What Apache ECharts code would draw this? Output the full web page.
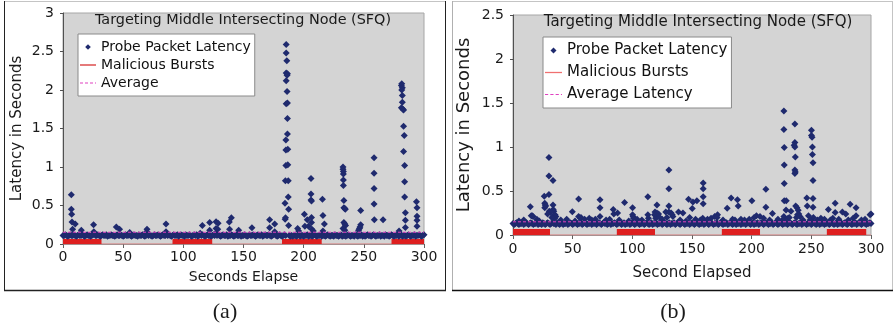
<!DOCTYPE html>
<html><head><meta charset="utf-8">
<script src="https://cdn.jsdelivr.net/npm/echarts@6/dist/echarts.min.js"></script>
<style>html,body{margin:0;padding:0;background:#fff}#c{width:893px;height:327px}</style>
</head><body><div id="c"></div>
<script>
// ---------- DATA ----------
const titleText = 'Targeting Middle Intersecting Node (SFQ)';
const xNameA = 'Seconds Elapse', xNameB = 'Second Elapsed';
const yName = 'Latency in Seconds';
const legendA = ['Probe Packet Latency', 'Malicious Bursts', 'Average'];
const legendB = ['Probe Packet Latency', 'Malicious Bursts', 'Average Latency'];
const captions = ['(a)', '(b)'];

// baseline probe latency, one reading per second (0..300), chart (a)
const baseA = [
.11,.11,.12,.11,.10,.11,.12,.11,.11,.12,
.11,.10,.11,.12,.11,.11,.12,.11,.10,.11,
.12,.11,.11,.10,.11,.12,.14,.11,.11,.12,
.11,.10,.11,.12,.11,.11,.12,.10,.11,.11,
.12,.11,.11,.10,.11,.12,.11,.11,.12,.11,
.10,.11,.12,.11,.11,.12,.11,.10,.11,.12,
.11,.11,.10,.12,.11,.11,.12,.11,.10,.11,
.14,.11,.12,.11,.10,.11,.12,.11,.11,.12,
.11,.10,.11,.12,.11,.11,.14,.11,.12,.11,
.10,.11,.12,.11,.11,.12,.10,.11,.12,.11,
.11,.10,.12,.11,.11,.12,.11,.10,.11,.12,
.11,.12,.10,.11,.14,.11,.12,.11,.10,.11,
.12,.11,.11,.10,.11,.12,.11,.14,.11,.12,
.11,.10,.11,.12,.11,.11,.12,.10,.11,.11,
.12,.11,.10,.11,.12,.11,.11,.12,.10,.11,
.11,.12,.11,.10,.11,.12,.11,.11,.12,.11,
.10,.11,.12,.11,.11,.12,.10,.11,.12,.11,
.11,.12,.11,.10,.11,.12,.14,.11,.10,.11,
.12,.11,.10,.11,.12,.11,null,null,.11,.10,
.11,.10,.11,.11,.10,.11,.12,.10,.11,.11,
.10,.11,.11,.12,.10,.11,.11,.10,.11,.12,
.11,.10,.11,.11,.12,.10,.11,.11,.10,.11,
.12,.11,.10,.11,.11,.10,.12,.11,.11,.10,
.11,.12,.10,.11,.11,.10,.11,.12,.11,.10,
.11,.11,.10,.12,.11,.10,.11,.11,.12,.10,
.11,.10,.11,.12,.11,.11,.10,.11,.12,.11,
.10,.11,.11,.12,.10,.11,.11,.10,.12,.11,
.11,.10,.11,.12,.11,.10,.11,.11,.12,.10,
.11,.12,.10,.11,.11,.10,.11,.12,.11,.10,
.11,.11,.12,.10,.11,.11,.12,.11,.10,.11,
.12];
// higher readings, chart (a): [second, latency]
const peaksA = [
[6.9,.64],[6.9,.45],[7.2,.385],[7.5,.285],[8,.19],[10.2,.26],[15.2,.18],[25.4,.25],[25.6,.16],
[44.3,.22],[47,.19],[55.4,.15],[69.8,.19],[69.6,.16],[85.6,.26],[85.6,.16],
[115.8,.24],[121.9,.28],[121.9,.18],[127.2,.29],[128.9,.27],[127.2,.2],[128.6,.19],
[138.2,.285],[139.9,.34],[138.4,.19],[146,.18],[157,.21],[171.7,.315],[171.7,.21],[175.9,.26],[175.9,.16],
[184.5,.53],[184.6,.32],[184.9,.34],[185.5,2.59],[185.5,2.48],[186,2.38],[185.5,2.22],[186.5,2.21],
[186.2,2.19],[185.5,2.12],[186.2,1.98],[185.5,1.82],[186.5,1.83],[186.5,1.63],[186.5,1.43],[185.2,1.35],
[185.2,1.22],[186.8,1.23],[185.2,1.02],[186.8,1.03],[184.8,.82],[187.2,.82],[187.2,.61],[187.5,.45],[187.5,.24],
[195,.2],[195.8,.17],[200.6,.385],[203,.315],[201,.23],[204,.23],[206.1,.85],[206.1,.65],[206.1,.57],
[206.5,.56],[206.5,.345],[206.5,.28],[206.8,.19],[208,.17],[215.6,.58],[216,.37],[217.2,.26],[216,.17],
[232.7,1.0],[232.7,.97],[233,.94],[233,.91],[233,.83],[233,.76],[233.4,.565],[233.4,.47],[234.2,.46],
[234.6,.45],[233.4,.28],[234.2,.26],[234.8,.24],[232.7,.2],[234.2,.18],
[247.4,.435],[247.4,.25],[246.8,.22],[246.4,.2],[245.6,.18],
[258.5,1.12],[258.5,.92],[258.5,.72],[258.5,.52],[258.7,.315],[266,.315],
[281.5,2.08],[281.2,2.06],[282,2.03],[281.5,2.0],[282,1.93],[282,1.84],[281.2,1.77],[282.5,1.75],
[283,1.74],[283,1.53],[283.6,1.41],[283,1.2],[283.9,1.02],[283.9,.81],[283.9,.61],[284.5,.405],
[284.5,.31],[284.5,.215],[279.3,.17],
[293.7,.55],[294.2,.47],[294.2,.36],[294.2,.31],[294.2,.23]];
const burstsA = [[0,32],[91,124],[182,215],[273,300]];
const avgA = 0.153;

// baseline probe latency, one reading per second (0..300), chart (b)
const baseB = [
.13,.12,.13,.14,.13,.12,.13,.13,.14,.12,
.13,.14,.13,.12,.13,.14,.13,.12,.13,.13,
.14,.12,.13,.13,.12,.14,.13,.12,.13,.14,
.13,.12,.13,.14,.13,.13,.12,.14,.13,.12,
.13,.14,.12,.13,.13,.14,.12,.13,.14,.13,
.12,.13,.14,.13,.12,.13,.13,.14,.12,.13,
.14,.13,.12,.13,.13,.14,.12,.13,.13,.14,
.12,.13,.14,.13,.12,.13,.14,.13,.13,.12,
.13,.14,.12,.13,.13,.14,.13,.12,.13,.14,
.13,.12,.13,.14,.12,.13,.13,.14,.12,.13,
.14,.13,.12,.13,.14,.13,.12,.13,.13,.14,
.12,.13,.14,.13,.12,.13,.14,.12,.13,.13,
.14,.12,.13,.13,.14,.12,.13,.14,.13,.12,
.13,.14,.12,.13,.13,.14,.12,.13,.14,.13,
.12,.13,.14,.13,.12,.13,.13,.14,.12,.13,
.14,.13,.12,.13,.14,.13,.12,.13,.13,.14,
.12,.13,.14,.13,.12,.13,.14,.13,.12,.13,
.13,.14,.12,.13,.14,.13,.12,.13,.13,.14,
.12,.13,.14,.13,.12,.13,.14,.12,.13,.13,
.14,.12,.13,.13,.14,.12,.13,.14,.13,.12,
.13,.14,.12,.13,.13,.14,.12,.13,.14,.13,
.12,.13,.14,.13,.12,.13,.13,.14,.12,.13,
.14,.13,.12,.13,.14,.13,.12,.13,.13,.14,
.12,.13,.14,.13,.12,.13,.14,.13,.12,.13,
.13,.14,.12,.13,.14,.13,.12,.13,.13,.14,
.12,.13,.14,.13,.12,.13,.14,.12,.13,.13,
.14,.12,.13,.13,.14,.12,.13,.14,.13,.12,
.13,.14,.12,.13,.13,.14,.12,.13,.14,.13,
.12,.13,.14,.13,.12,.13,.13,.14,.12,.13,
.14,.13,.12,.13,.14,.13,.12,.13,.13,.14,
.13];
// higher readings, chart (b): [second, latency]
const peaksB = [
[5,.16],[9,.17],[14.5,.32],[15.3,.22],[16.1,.22],[16.8,.21],[20,.18],[22,.16],
[26.2,.44],[26.6,.36],[27,.34],[26.6,.31],[27.4,.33],[30.1,.88],[30.1,.67],[33.5,.62],[30.1,.46],
[33.5,.34],[33.7,.29],[34.2,.27],[34,.22],[35.2,.23],[36,.21],[35,.19],[30.4,.27],[31.6,.26],[32.5,.2],[29,.24],
[40,.17],[45,.18],[49.7,.265],[52,.16],[55,.41],[55,.21],[56.5,.19],[57,.2],[60,.18],[63.9,.19],[66,.17],[69,.18],
[72.9,.40],[72.9,.31],[72.9,.21],[78,.17],[81,.18],[84,.29],[84.5,.24],[87.6,.25],[89,.17],[93.5,.37],[97,.16],
[100.2,.31],[100.2,.23],[100.6,.21],[101,.19],[104,.18],[108,.17],
[113,.435],[113,.23],[113.5,.19],[120.6,.34],[119,.26],[120.6,.25],[122,.24],[118.6,.23],[121,.21],[119.5,.19],[123,.2],[125,.18],
[130.6,.74],[130.6,.525],[130.6,.33],[128,.26],[130.6,.26],[132.5,.25],[133.4,.23],[134,.21],[129,.2],
[138.7,.26],[140,.17],[142.4,.25],[145,.16],[147.1,.405],[148,.2],[150.2,.30],[150.8,.375],[154.1,.39],[153,.18],[157,.17],
[159.4,.59],[159.4,.525],[159.4,.435],[159.4,.355],[159,.19],[159.8,.17],[163,.18],[166,.19],[169,.21],
[171.4,.23],[171,.2],[176,.17],[179.5,.305],[182.8,.42],[186,.17],[188.1,.40],[188.7,.33],[184,.18],[191,.18],[194,.17],
[200.2,.39],[198,.18],[202,.2],[204,.22],[207,.21],[211.9,.52],[211.9,.315],[210,.19],[217.4,.245],[215,.17],[222,.18],
[227,1.41],[227,1.20],[227.3,.995],[227.3,.795],[227.3,.585],[227.3,.39],[229,.39],[228.8,.285],[227,.21],[226.5,.18],
[230.5,.19],[231.5,.2],[232.9,.27],
[236.2,1.26],[236.2,1.05],[235.6,1.02],[236.2,1.0],[236.6,.885],[236.2,.74],[236.6,.715],[236.2,.70],[236.9,.33],
[238,.31],[239,.28],[239.5,.24],[238.4,.23],[237.5,.2],[240.5,.21],[243,.17],
[246.2,.42],[246.6,.33],[247.6,.22],[250.1,1.19],[250.1,1.13],[250.6,1.11],[250.9,1.0],[250.9,.915],[251.4,.82],
[251.4,.62],[251.4,.415],[251.4,.315],[251.7,.2],[249,.17],[255,.17],
[258,.19],[261,.18],[264.3,.29],[266,.17],[270,.36],[270,.255],[268,.19],[273,.18],[276,.26],[278.9,.24],[281,.17],
[282.5,.35],[287.5,.31],[287.5,.22],[285,.19],[292,.17],[295,.18],[299.2,.23],[300,.24]];
const burstsB = [[0,31],[87,119],[175,207],[263,296]];
const avgB = 0.15;

// ---------- BUILD ----------
const FONT = 'DejaVu Sans';
const NAVY = '#1f2a6e';
const RED = '#de1f1f';
const MAG = '#e040c0';

function points(base, peaks) {
  const out = [];
  base.forEach((v, sec) => { if (v != null) out.push([sec, v]); });
  return out.concat(peaks);
}
function burstLine(bursts, level) {
  const out = [];
  bursts.forEach((b, i) => { if (i) out.push(['-', '-']); out.push([b[0], level], [b[1], level]); });
  return out;
}
// legend icons (bounding box padded with move-to points so the glyph stays small)
const diamondIcon = 'path://M0,0M14,14M7,4.2L9.8,7L7,9.8L4.2,7Z';
const solidIcon = 'path://M0,0M16,14M0,6.4L16,6.4L16,7.6L0,7.6Z';
const dashIcon = 'path://M0,0M16,14M0,6.5L3,6.5L3,7.5L0,7.5ZM5,6.5L8,6.5L8,7.5L5,7.5ZM10,6.5L13,6.5L13,7.5L10,7.5ZM15,6.5L16,6.5L16,7.5L15,7.5Z';

function axes(idx, ymax, xName, xNameSize, xNameGap, xLabMargin, yNameSize, yNameGap) {
  const x = {
    type: 'value', gridIndex: idx, min: 0, max: 300, interval: 50,
    name: xName, nameLocation: 'middle', nameGap: xNameGap,
    nameTextStyle: { fontFamily: FONT, fontSize: xNameSize, color: '#1a1a1a' },
    axisLine: { show: true, lineStyle: { color: '#909090', width: 1 } },
    axisTick: { show: true, length: 4, lineStyle: { color: '#606060' } },
    axisLabel: { fontFamily: FONT, fontSize: 14, color: '#1a1a1a', margin: xLabMargin },
    splitLine: { show: false }
  };
  const y = {
    type: 'value', gridIndex: idx, min: 0, max: ymax, interval: 0.5,
    name: yName, nameLocation: 'middle', nameGap: yNameGap,
    nameTextStyle: { fontFamily: FONT, fontSize: yNameSize, color: '#1a1a1a' },
    axisLine: { show: true, lineStyle: { color: '#505050', width: 1 } },
    axisTick: { show: true, length: 3, lineStyle: { color: '#505050' } },
    axisLabel: { fontFamily: FONT, fontSize: 14, color: '#1a1a1a', margin: 9 },
    splitLine: { show: false }
  };
  return [x, y];
}
const [xa, ya] = axes(0, 3, xNameA, 14, 26, 6, 15, 38);
const [xb, yb] = axes(1, 2.5, xNameB, 15, 31, 7, 18, 40);

function seriesFor(idx, base, peaks, bursts, avg, avgName, level, barW) {
  return [
    { type: 'line', name: 'zero' + idx, xAxisIndex: idx, yAxisIndex: idx, data: [[0, 0], [300, 0]],
      symbol: 'none', silent: true, lineStyle: { color: '#f09090', width: 1.2 }, z: 3 },
    { type: 'line', name: 'Malicious Bursts', xAxisIndex: idx, yAxisIndex: idx, data: burstLine(bursts, level),
      symbol: 'none', showSymbol: false, silent: true, connectNulls: false, lineStyle: { color: RED, width: barW, cap: 'butt' }, itemStyle: { color: RED }, z: 4 },
    { type: 'scatter', name: 'Probe Packet Latency', xAxisIndex: idx, yAxisIndex: idx, data: points(base, peaks),
      symbol: 'diamond', symbolSize: 7, itemStyle: { color: NAVY, opacity: 1 }, silent: true, z: 5 },
    { type: 'line', name: avgName, xAxisIndex: idx, yAxisIndex: idx, data: [[0, avg], [300, avg]],
      symbol: 'none', showSymbol: false, silent: true, lineStyle: { color: MAG, width: 1, type: [3, 2] }, itemStyle: { color: MAG }, z: 6 }
  ];
}

function legendFor(names, left, top, fs, iw, ih, gap, pad, burstColor) {
  return {
    orient: 'vertical', left: left, top: top, padding: pad,
    itemWidth: iw, itemHeight: ih, itemGap: gap, itemTextGap: 3,
    backgroundColor: '#ffffff', borderColor: '#8a8a8a', borderWidth: 1, borderRadius: 0,
    selectedMode: false, symbolKeepAspect: true,
    textStyle: { fontFamily: FONT, fontSize: fs, color: '#111' },
    data: [
      { name: names[0], icon: diamondIcon, itemStyle: { color: NAVY, borderWidth: 0 } },
      { name: names[1], icon: solidIcon, itemStyle: { color: burstColor, borderWidth: 0 } },
      { name: names[2], icon: dashIcon, itemStyle: { color: MAG, borderWidth: 0 } }
    ]
  };
}

const chart = echarts.init(document.getElementById('c'), null, { renderer: 'canvas' });
chart.setOption({
  animation: false,
  backgroundColor: '#ffffff',
  grid: [
    { left: 63, top: 13, width: 361, height: 231, show: true, backgroundColor: '#d4d4d4', borderColor: '#a6a6a6', borderWidth: 1, containLabel: false },
    { left: 513, top: 15, width: 358, height: 220, show: true, backgroundColor: '#d4d4d4', borderColor: '#a6a6a6', borderWidth: 1, containLabel: false }
  ],
  xAxis: [xa, xb],
  yAxis: [ya, yb],
  legend: [
    legendFor(legendA, 78, 34, 14, 16, 14, 4, [6, 4, 6, 2], '#d42020'),
    legendFor(legendB, 543, 37, 15, 17, 15, 7, [6, 4, 6, 2], '#f07070')
  ],
  series: seriesFor(0, baseA, peaksA, burstsA, avgA, legendA[2], 0.032, 5)
    .concat(seriesFor(1, baseB, peaksB, burstsB, avgB, legendB[2], 0.034, 6)),
  graphic: [
    { type: 'text', x: 243, y: 13, z: 20, style: { text: titleText, fontFamily: FONT, fontSize: 14.4, fill: '#1a1a1a', textAlign: 'center', textVerticalAlign: 'top' } },
    { type: 'text', x: 698, y: 15, z: 20, style: { text: titleText, fontFamily: FONT, fontSize: 15, fill: '#1a1a1a', textAlign: 'center', textVerticalAlign: 'top' } },
    { type: 'text', x: 225, y: 312, style: { text: captions[0], fontFamily: 'Liberation Serif', fontSize: 22, fill: '#1a1a1a', textAlign: 'center', textVerticalAlign: 'middle' } },
    { type: 'text', x: 673, y: 312, style: { text: captions[1], fontFamily: 'Liberation Serif', fontSize: 22, fill: '#1a1a1a', textAlign: 'center', textVerticalAlign: 'middle' } },
    // frames
    { type: 'line', shape: { x1: 4, y1: 1.5, x2: 445, y2: 1.5 }, style: { stroke: '#c4c4c4', lineWidth: 1 } },
    { type: 'line', shape: { x1: 4.5, y1: 1, x2: 4.5, y2: 290 }, style: { stroke: '#222', lineWidth: 1 } },
    { type: 'line', shape: { x1: 445.5, y1: 1, x2: 445.5, y2: 290 }, style: { stroke: '#222', lineWidth: 1 } },
    { type: 'line', shape: { x1: 4, y1: 290.5, x2: 446, y2: 290.5 }, style: { stroke: '#222', lineWidth: 1.5 } },
    { type: 'line', shape: { x1: 452, y1: 1.5, x2: 893, y2: 1.5 }, style: { stroke: '#c4c4c4', lineWidth: 1 } },
    { type: 'line', shape: { x1: 452.5, y1: 1, x2: 452.5, y2: 290 }, style: { stroke: '#b0b0b0', lineWidth: 1 } },
    { type: 'line', shape: { x1: 892.5, y1: 1, x2: 892.5, y2: 290 }, style: { stroke: '#c4c4c4', lineWidth: 1 } },
    { type: 'line', shape: { x1: 452, y1: 290.5, x2: 893, y2: 290.5 }, style: { stroke: '#111', lineWidth: 1.5 } }
  ]
});
</script>
</body></html>
